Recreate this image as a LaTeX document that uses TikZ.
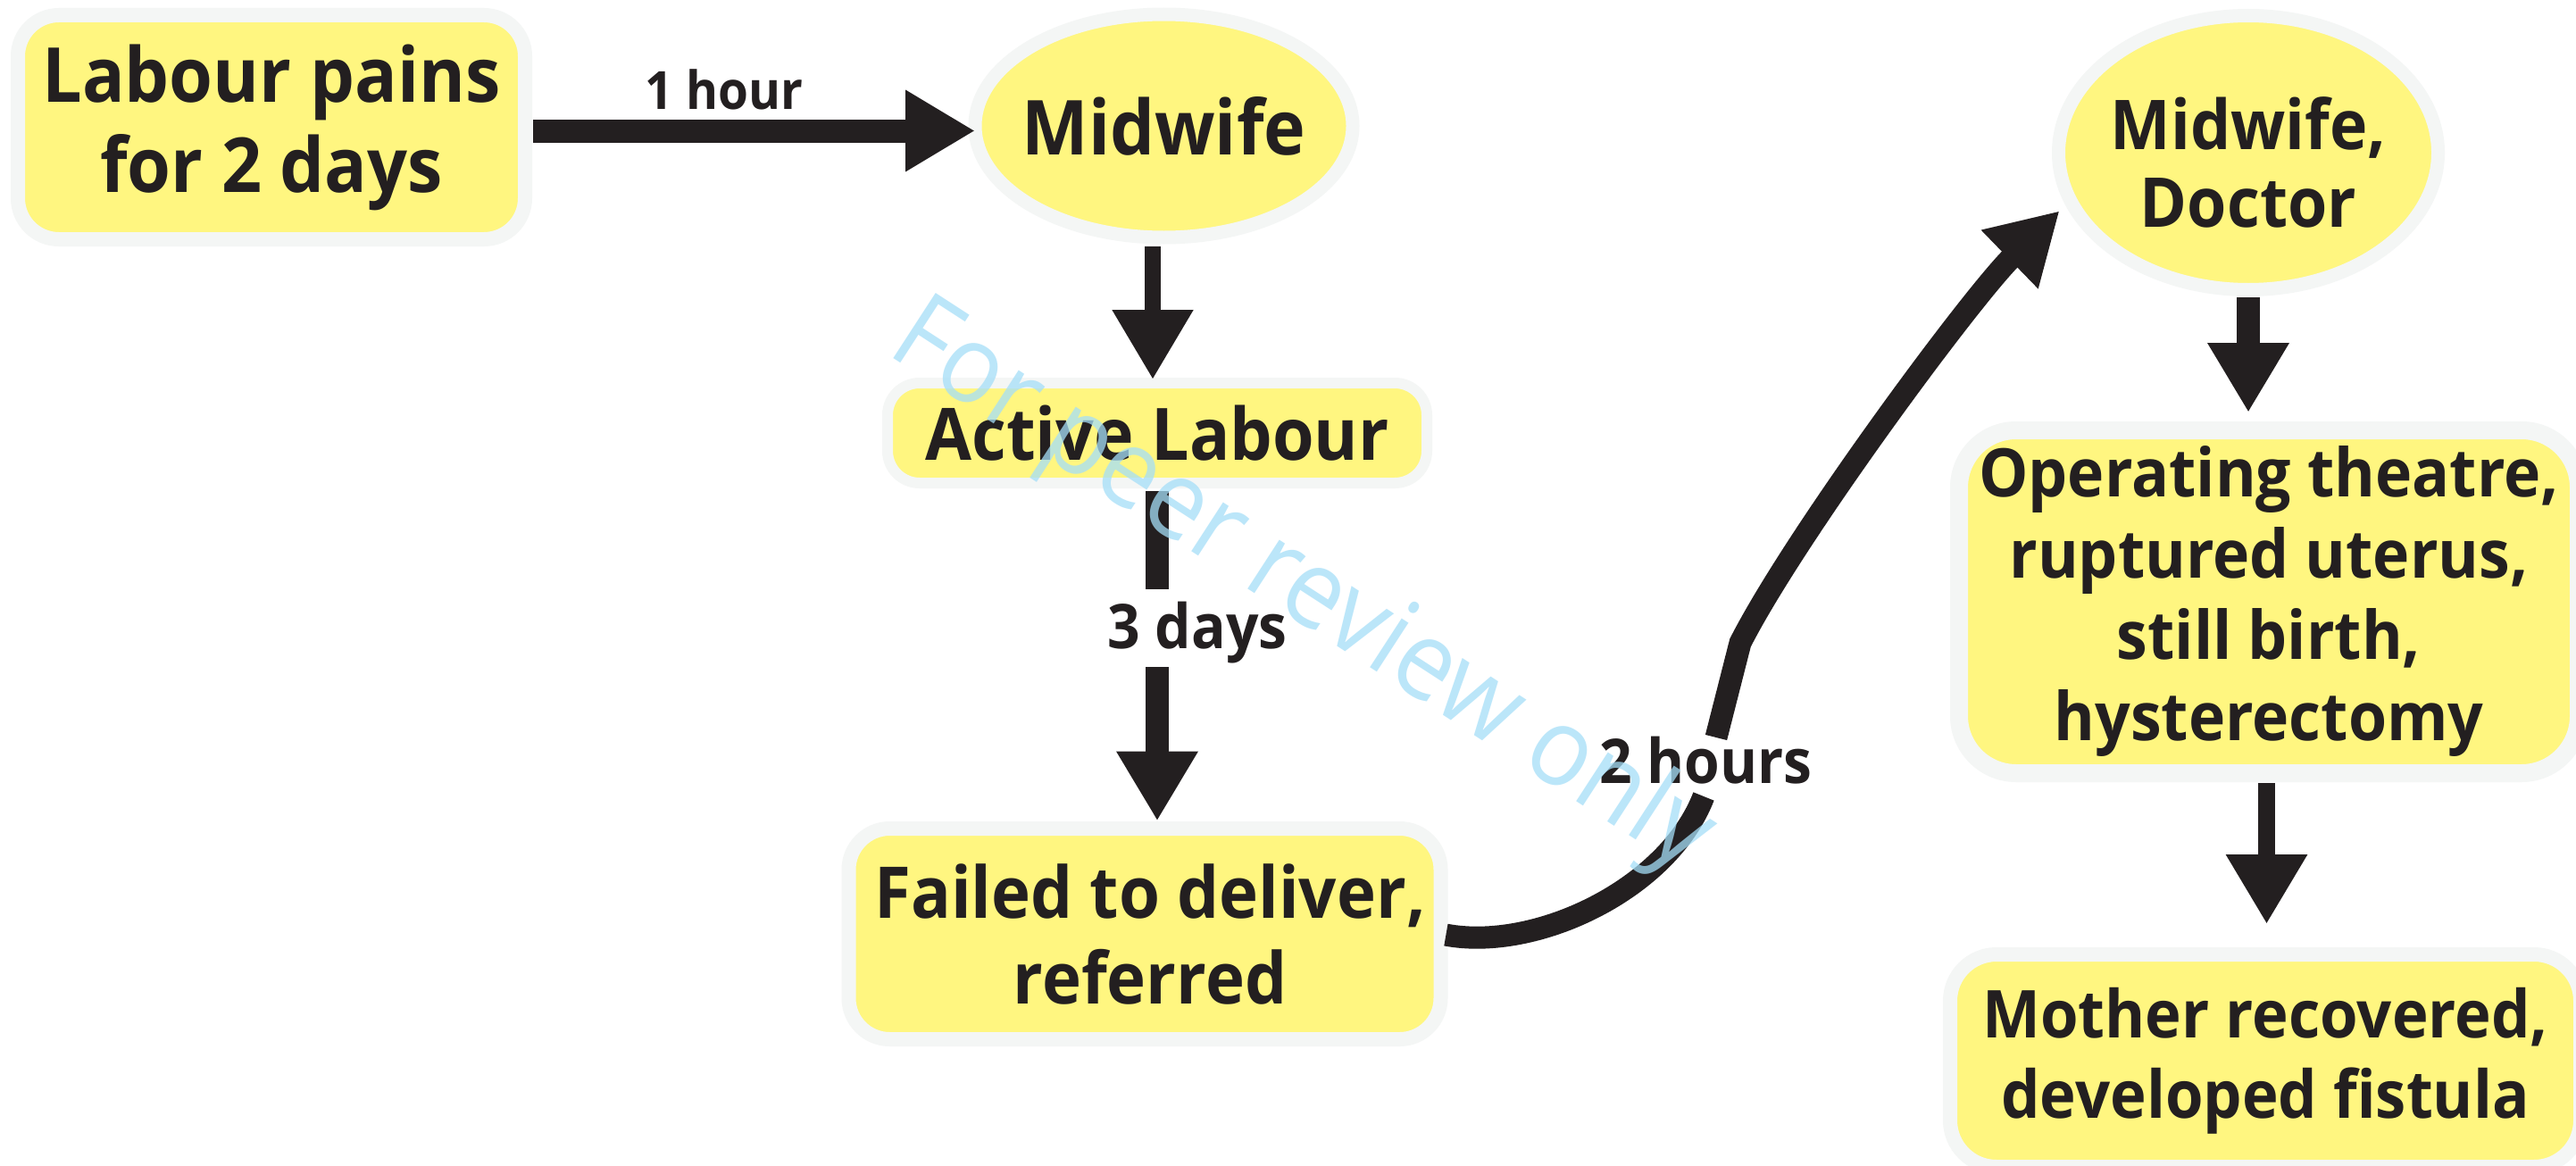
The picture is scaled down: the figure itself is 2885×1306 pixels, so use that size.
\documentclass[tikz,border=0pt]{standalone}
\usepackage{fontspec}
\newfontfamily\nf{Open Sans}[FakeStretch=0.93]
\usetikzlibrary{arrows.meta,shapes.geometric}
\definecolor{fillY}{RGB}{255,246,128}
\definecolor{halo}{RGB}{244,246,245}
\definecolor{ink}{RGB}{35,31,32}
\definecolor{wmc}{RGB}{165,222,248}
\newcommand{\fs}[2]{\fontsize{#1}{#2}\selectfont}
\newcommand{\zw}[1]{\makebox[0pt]{#1}}
\begin{document}
\begin{tikzpicture}[x=1pt,y=-1pt,
  box/.style={draw=halo, fill=fillY, line width=16pt, rounded corners=46pt,
    inner sep=0pt, outer sep=0pt, align=center, text=ink},
  oval/.style={ellipse, draw=halo, fill=fillY, line width=15pt,
    inner sep=0pt, outer sep=0pt, align=center, text=ink},
  bar/.style={draw=ink, line width=26pt},
  tipd/.style={-{Triangle[length=78pt,width=86pt]}},
  lbl/.style={text=ink, inner sep=0pt, anchor=base}]
\fill[white] (0,0) rectangle (2885,1306);
\useasboundingbox (0,0) rectangle (2885,1306);

% nodes
\node[box, minimum width=568pt, minimum height=251pt,
  font=\nf\bfseries\fs{85}{101}] (n1) at (304,142.5) {Labour pains\\for 2 days};
\node[oval, minimum width=423pt, minimum height=250pt,
  font=\nf\bfseries\fs{85}{101}] (mw) at (1303.5,141) {\zw{Midwife}};
\node[box, line width=12pt, rounded corners=36pt, minimum width=604pt, minimum height=112pt,
  font=\nf\bfseries\fs{81}{96}] (al) at (1296,485) {Active Labour};
\node[box, minimum width=663pt, minimum height=236pt,
  font=\nf\bfseries\fs{80}{96}] (fd) at (1282,1046) {\hspace*{12pt}Failed to deliver,\\\hspace*{12pt}referred};
\node[oval, minimum width=425pt, minimum height=307pt, text height=186pt, text depth=20pt,
  font=\nf\bfseries\fs{77}{87}] (md) at (2518,171) {\zw{Midwife,}\\\zw{Doctor}};
\node[box, line width=20pt, rounded corners=64pt, minimum width=694pt, minimum height=384pt,
  font=\nf\bfseries\fs{75}{91}] (op) at (2541,674) {Operating theatre,\\ruptured uterus,\\still birth,\\hysterectomy};
\node[box, rounded corners=52pt, minimum width=706pt, minimum height=238pt,
  font=\nf\bfseries\fs{74}{90}] (mo) at (2537,1188) {Mother recovered,\\developed fistula};

% labels
\node[lbl, font=\nf\bfseries\fs{59}{70}] (l1) at (811,122) {1 hour};
\node[lbl, font=\nf\bfseries\fs{69}{80}] (l3) at (1341,726) {3 days};
\node[lbl, font=\nf\bfseries\fs{69}{80}] (l2) at (1910.5,877) {2 hours};

% gap ends
\coordinate (g1) at (1296,660);
\coordinate (g2) at (1296,747);
\coordinate (c1) at (1908,892);
\coordinate (c2) at (1922,826);
\coordinate (c3) at (1949,720);

% connectors
\draw[bar, tipd, shorten <=9pt] ([yshift=-4pt]n1.east) -- ([yshift=-4pt]n1.east -| mw.west);
\draw[bar, line width=18pt, tipd, shorten <=10pt, shorten >=4pt]
  ([xshift=-12.5pt]mw.south) -- ([xshift=-12.5pt]mw.south |- al.north);
\draw[bar, shorten <=9pt] (al.south -| g1) -- (g1);
\draw[bar, tipd, shorten >=8.5pt] (g2) -- (g2 |- fd.north);
\draw[bar, tipd, shorten <=8.5pt, shorten >=20pt] (md.south) -- (md.south |- op.north);
\draw[bar, line width=19pt, tipd, shorten <=11pt, shorten >=34pt]
  ([xshift=-2.5pt]op.south) -- ([xshift=-2.5pt]op.south |- mo.north);
\draw[bar, line width=25pt, shorten <=6pt] (fd.east) .. controls (1720,1066) and (1868,996) .. (c1);
\draw[bar, line width=25pt, tipd, shorten >=17pt] (c2) -- (c3) .. controls (2010,600) and (2209,331) .. (md.195);

% watermark
\node[text=wmc, text opacity=0.75, inner sep=0pt, rotate=-33, anchor=base west,
  font=\nf\fs{122}{130}] (wm) at (991,395) {For peer review only};
\end{tikzpicture}
\end{document}
